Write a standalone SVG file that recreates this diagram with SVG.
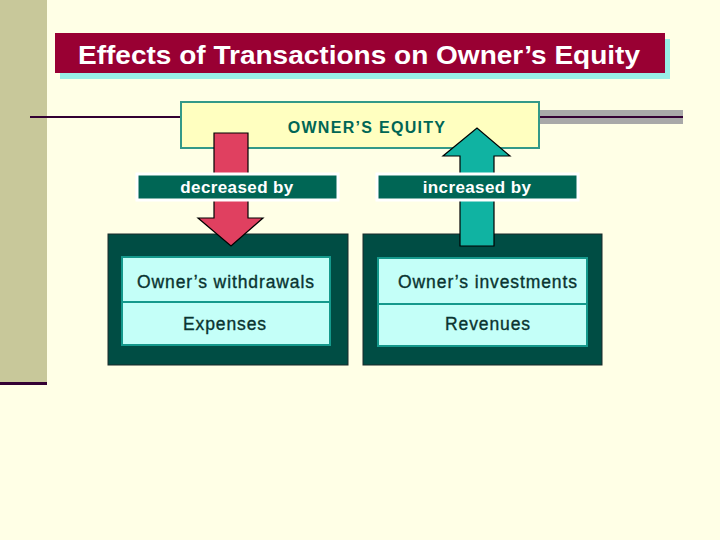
<svg xmlns="http://www.w3.org/2000/svg" width="720" height="540" viewBox="0 0 720 540">
<style>
.lbl{fill:#006655;stroke:#ffffff;stroke-width:3}
.lbltxt{font-family:"Liberation Sans",Arial,sans-serif;font-size:17px;font-weight:bold;letter-spacing:0.4px;fill:#ffffff;text-anchor:middle}
.dark{fill:#004D44;stroke:#1a2a2a;stroke-width:1}
.cell{fill:#C4FFF8;stroke:#15998C;stroke-width:2}
.celltxt{font-family:"Liberation Sans",Arial,sans-serif;font-size:17.5px;letter-spacing:0.9px;fill:#0A3430;stroke:#0A3430;stroke-width:0.35;text-anchor:middle}
.arrow{stroke:#000000;stroke-width:1.2}
</style>
<rect width="720" height="540" fill="#FFFFE6"/>
<rect x="0" y="0" width="47" height="382" fill="#C8C89A"/>
<rect x="0" y="382" width="47" height="3" fill="#330033"/>
<rect x="540" y="110" width="143" height="14" fill="#A8A8A8"/>
<line x1="540" y1="117" x2="683" y2="117" stroke="#330033" stroke-width="2"/>
<line x1="30" y1="117" x2="182" y2="117" stroke="#330033" stroke-width="2"/>
<g id="title">
<rect x="60" y="39" width="610" height="40" fill="#99EEE6"/>
<rect x="55" y="33" width="610" height="40" fill="#990033"/>
<text x="359" y="64" font-family="Liberation Sans,Arial,sans-serif" font-size="25" font-weight="bold" fill="#ffffff" text-anchor="middle" textLength="562" lengthAdjust="spacingAndGlyphs">Effects of Transactions on Owner’s Equity</text>
</g>
<g id="owners-equity">
<rect x="181" y="102" width="358" height="46" fill="#FFFFC0" stroke="#339988" stroke-width="2"/>
<text x="367" y="133" font-family="Liberation Sans,Arial,sans-serif" font-size="16" font-weight="bold" letter-spacing="1.3" fill="#006655" text-anchor="middle">OWNER’S EQUITY</text>
</g>
<g id="decrease-box">
<rect class="dark" x="108" y="234" width="240" height="131"/>
<rect class="cell" x="122" y="257" width="208" height="45"/>
<rect class="cell" x="122" y="302" width="208" height="43"/>
<text class="celltxt" x="226" y="288">Owner’s withdrawals</text>
<text class="celltxt" x="225" y="330">Expenses</text>
</g>
<g id="increase-box">
<rect class="dark" x="363" y="234" width="239" height="131"/>
<rect class="cell" x="378" y="258" width="209" height="46"/>
<rect class="cell" x="378" y="304" width="209" height="42"/>
<text class="celltxt" x="488" y="288">Owner’s investments</text>
<text class="celltxt" x="488" y="330">Revenues</text>
</g>
<g id="connectors">
<polygon class="arrow" fill="#E04060" points="214,133 248,133 248,218 263,218 231,246 198,218 214,218"/>
<polygon class="arrow" fill="#10B3A2" points="460,246 494,246 494,156 510,156 477,128 443,156 460,156"/>
</g>
<g id="decreased-by">
<rect class="lbl" x="137" y="174" width="201" height="26"/>
<text class="lbltxt" x="237" y="193">decreased by</text>
</g>
<g id="increased-by">
<rect class="lbl" x="377" y="174" width="201" height="26"/>
<text class="lbltxt" x="477" y="193">increased by</text>
</g>
</svg>
